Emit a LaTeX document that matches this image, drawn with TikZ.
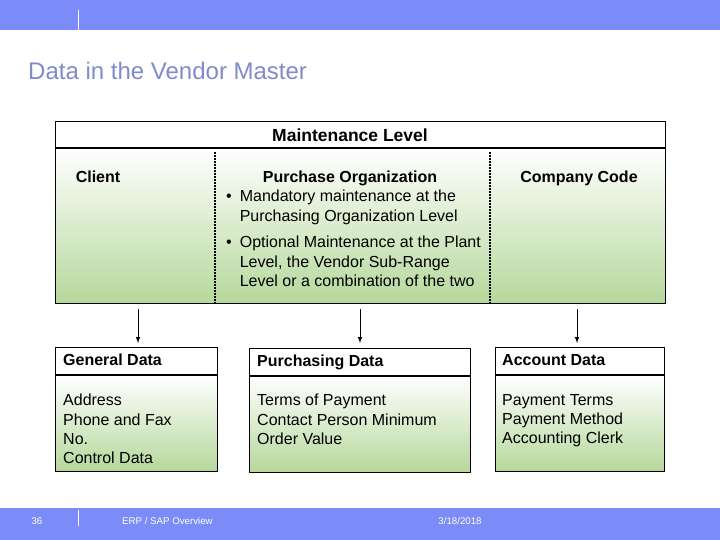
\documentclass[tikz,border=0pt]{standalone}
\usepackage{fontspec}
\setmainfont{Liberation Sans}
\begin{document}
\begin{tikzpicture}[x=1pt,y=-1pt,
  bar/.style={fill=barblue,draw=none},
  box/.style={draw=black,line width=0.8pt},
  hline/.style={line width=1.6pt},
  divider/.style={dash pattern=on 2pt off 1pt,line width=1.2pt},
  arr/.style={-latex,line width=1pt},
  txt/.style={anchor=north west,inner sep=0pt,align=left,font=\fontsize{16}{19.3}\selectfont},
  hd/.style={anchor=north west,inner sep=0pt,font=\fontsize{16}{19.3}\selectfont\bfseries},
  ttl/.style={anchor=north,inner sep=0pt,align=center,font=\fontsize{16}{19.3}\selectfont\bfseries},
  foot/.style={text=white,font=\fontsize{9.7}{11}\selectfont,inner sep=0pt}]
\definecolor{barblue}{HTML}{7B8CF8}
\definecolor{green1}{HTML}{B5D89B}
\definecolor{titleblue}{HTML}{7F8CCB}
\useasboundingbox (0,0) rectangle (720,540);
\fill[white] (0,0) rectangle (720,540);
% bars
\fill[bar] (0,0) rectangle (720,30);
\fill[bar] (0,508) rectangle (720,540);
\draw[white,line width=0.8pt] (78,10) -- (78,30);
\draw[white,line width=0.8pt] (78,510) -- (78,526);
\node[foot] (pg) at (37,521) {36};
\node[foot,anchor=west] (ft) at (122,521) {ERP / SAP Overview};
\node[foot] (dt) at (460,521) {3/18/2018};
\node[anchor=west,text=titleblue,inner sep=0pt,font=\fontsize{24}{28}\selectfont] (title) at (28,71) {Data in the Vendor Master};
% maintenance box
\shade[top color=white,bottom color=green1] (55,148) rectangle (665,303);
\draw[box] (55,121) rectangle (665,303);
\draw[hline] (55,148) -- (665,148);
\node[ttl,font=\fontsize{17.5}{20}\selectfont\bfseries] (ml) at (350,129) {Maintenance Level};
\draw[divider] (215,152) -- (215,303);
\draw[divider] (490,152) -- (490,303);
\node[ttl] (cl) at (98,171) {Client};
\node[ttl] (po) at (350,171) {Purchase Organization};
\node[txt] (b1) at (226,190) {•\hspace{8pt}\parbox[t]{250pt}{Mandatory maintenance at the\\Purchasing Organization Level}};
\node[ttl] (cc) at (579,171) {Company Code};
\node[txt] (b2) at (226,236) {•\hspace{8pt}\parbox[t]{270pt}{Optional Maintenance at the Plant\\Level, the Vendor Sub-Range\\Level or a combination of the two}};
% data boxes
\shade[top color=white,bottom color=green1] (55,375) rectangle (217,471);
\draw[box] (55,347) rectangle (217,471);
\draw[hline] (55,375) -- (217,375);
\node[hd] (gd) at (63,354) {General Data};
\node[txt] (gdb) at (63,394) {Address\\Phone and Fax\\No.\\Control Data};
\shade[top color=white,bottom color=green1] (249,376) rectangle (470,472);
\draw[box] (249,348) rectangle (470,472);
\draw[hline] (249,376) -- (470,376);
\node[hd] (pd) at (257,355) {Purchasing Data};
\node[txt] (pdb) at (257,394) {Terms of Payment\\Contact Person Minimum\\Order Value};
\shade[top color=white,bottom color=green1] (495,375) rectangle (664,471);
\draw[box] (495,347) rectangle (664,471);
\draw[hline] (495,375) -- (664,375);
\node[hd] (ad) at (502,354) {Account Data};
\node[txt] (adb) at (502,394) {Payment Terms\\Payment Method\\Accounting Clerk};
% arrows
\coordinate (a1) at (138,309);
\coordinate (a2) at (360,309);
\coordinate (a3) at (577,309);
\draw[arr] (a1) -- (138,343);
\draw[arr] (a2) -- (360,343);
\draw[arr] (a3) -- (577,343);
\end{tikzpicture}
\end{document}
